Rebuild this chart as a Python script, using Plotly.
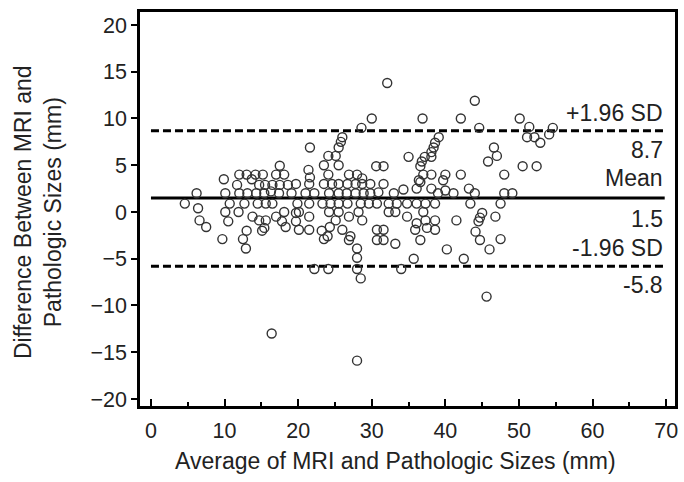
import plotly.graph_objects as go

# Bland-Altman data (average, difference) in mm
x_avg = [4.6, 6.2, 6.4, 6.6, 7.5, 9.7, 9.9, 10.1, 10.7, 10.1, 10.5, 12.0, 13.0, 14.2, 15.2, 17.0, 18.1,
         13.7, 11.7, 14.7, 15.5, 16.5, 17.5, 18.6, 19.7, 12.0, 13.1, 14.3, 15.4, 16.3, 17.4, 19.1, 17.5,
         12.7, 14.5, 15.6, 16.5, 11.9, 13.8, 14.7, 15.6, 15.4, 15.1, 17.0, 18.1, 17.8, 19.7, 19.7, 18.3,
         13.0, 12.5, 12.9, 16.4,
         20.1, 21.5, 20.1, 21.5, 21.6, 21.4, 21.6, 21.5, 19.9, 21.5, 23.3, 24.4, 25.5, 26.7, 28.5, 29.6,
         30.7, 32.3, 33.4, 34.8, 36.1, 37.3, 38.6, 24.2, 25.5, 28.2, 32.3, 33.2, 37.0, 25.1, 26.9, 28.7,
         34.8, 37.3, 38.6, 23.2, 24.3, 23.5, 24.0, 26.0, 27.1, 26.9, 30.7, 31.6, 30.7, 31.6, 33.2, 28.0,
         28.0, 28.0, 28.5, 22.2, 24.1, 34.0, 35.7, 35.9, 36.1, 36.6, 37.5, 38.6, 28.0,
         24.1, 24.1, 25.1, 23.5, 25.5, 26.0, 25.8, 25.5, 28.6, 30.0, 32.1, 30.6, 31.6, 26.9, 28.0, 28.7,
         23.5, 24.6, 25.5, 26.7, 27.8, 28.7, 29.8, 31.6,
         21.0, 22.2, 24.2, 25.5, 26.6, 27.8, 28.9, 29.8, 30.9, 33.0,
         34.3, 36.1, 36.6, 38.1, 39.0, 40.0,
         39.1, 38.6, 38.4, 38.1, 38.1, 37.2, 36.8, 36.6, 37.0, 38.1, 36.4, 35.0, 40.0, 39.7, 36.9,
         42.1, 44.6, 44.0, 50.1, 51.4, 54.6, 51.1, 52.1, 52.9, 54.1, 46.6, 47.0, 45.8, 50.5, 52.4, 48.0,
         42.1, 41.1, 43.2, 44.0, 48.0, 49.1, 43.4, 47.5, 45.0, 44.7, 44.5, 41.5, 46.8, 44.1, 44.7, 47.5,
         40.2, 46.0, 42.5, 45.6]
y_diff = [0.9, 2.0, 0.4, -0.9, -1.6, -2.9, 3.5, 2.0, 0.9, 0.0, -1.0, 4.0, 4.0, 4.0, 4.0, 4.0, 4.0,
          3.5, 2.9, 2.9, 2.9, 2.9, 2.9, 2.9, 3.0, 2.0, 2.0, 2.0, 2.0, 2.2, 2.0, 2.0, 4.95,
          0.9, 0.9, 0.9, 0.9, 0.0, -0.5, -0.9, -0.9, -1.7, -2.0, -0.5, 0.0, -1.0, -0.1, -1.0, -1.6,
          -2.0, -2.9, -3.9, -13.0,
          0.0, -0.5, -1.9, -1.9, 6.9, 4.5, 3.7, 3.0, 0.9, 0.9, 0.9, 0.9, 0.9, 0.9, 0.9, 0.9,
          0.9, 0.9, 0.9, 0.9, 0.9, 0.9, 0.9, 0.0, 0.0, 0.0, 0.0, 0.0, 0.0, -0.9, -0.5, -0.9,
          -0.5, -0.9, -0.9, -2.0, -1.6, -2.9, -2.6, -1.9, -2.6, -3.0, -1.9, -1.9, -3.0, -3.0, -3.4, -3.9,
          -4.9, -6.1, -7.1, -6.1, -6.1, -6.1, -5.0, -1.9, -1.2, -3.0, -1.7, -1.9, -15.9,
          4.0, 6.0, 6.0, 5.0, 5.0, 8.0, 7.5, 6.9, 9.0, 10.0, 13.8, 4.9, 4.9, 4.0, 4.0, 3.6,
          3.0, 3.0, 3.0, 3.0, 3.0, 3.0, 3.0, 3.0,
          2.0, 2.0, 2.0, 2.0, 2.0, 2.0, 2.0, 2.0, 2.1, 2.0,
          2.4, 2.5, 3.2, 2.5, 2.0, 2.3,
          8.0, 7.4, 6.9, 6.4, 5.9, 5.9, 5.4, 4.9, 4.0, 4.0, 3.4, 5.9, 4.0, 3.4, 10.0,
          10.0, 9.0, 11.9, 10.0, 9.1, 9.0, 8.0, 8.0, 7.4, 8.3, 6.9, 6.0, 5.4, 4.9, 4.9, 4.0,
          4.0, 2.0, 2.5, 2.0, 2.0, 2.0, 0.9, 0.9, -0.1, -0.6, -1.0, -0.9, -0.5, -2.1, -3.0, -2.9,
          -4.0, -4.0, -5.0, -9.05]

mean_diff = 1.5
upper_loa = 8.7
lower_loa = -5.8
line_x = [0, 69.8]

x_ticks = [0, 10, 20, 30, 40, 50, 60, 70]
y_ticks = [-20, -15, -10, -5, 0, 5, 10, 15, 20]

FONT = "Arial, Liberation Sans, sans-serif"
TXT = "#222222"

fig = go.Figure()

fig.add_trace(go.Scatter(x=line_x, y=[upper_loa] * 2, mode="lines",
                         line=dict(color="black", width=3, dash="8px,4px"), hoverinfo="skip"))
fig.add_trace(go.Scatter(x=line_x, y=[mean_diff] * 2, mode="lines",
                         line=dict(color="black", width=3), hoverinfo="skip"))
fig.add_trace(go.Scatter(x=line_x, y=[lower_loa] * 2, mode="lines",
                         line=dict(color="black", width=3, dash="8px,4px"), hoverinfo="skip"))

fig.add_trace(go.Scatter(x=x_avg, y=y_diff, mode="markers",
                         marker=dict(symbol="circle-open", size=9, color="#333333",
                                     line=dict(width=1.4, color="#333333"))))

labels = [("+1.96 SD", 10.6), (f"{upper_loa:.1f}", 6.6), ("Mean", 3.6),
          (f"{mean_diff:.1f}", -0.75), ("-1.96 SD", -3.9), (f"{lower_loa:.1f}", -7.8)]
for txt, yy in labels:
    fig.add_annotation(x=line_x[1], y=yy, xref="x", yref="y", text=txt, showarrow=False,
                       xanchor="right", yanchor="middle",
                       font=dict(family=FONT, size=23, color=TXT))

fig.add_annotation(xref="paper", yref="paper", x=0, y=0.5, xshift=-102, yshift=-3,
                   text="Difference Between MRI and<br>Pathologic Sizes (mm)", textangle=-90,
                   showarrow=False, xanchor="center", yanchor="middle",
                   font=dict(family=FONT, size=23, color=TXT))
fig.add_annotation(xref="paper", yref="paper", x=0.478, y=0, yshift=-55,
                   text="Average of MRI and Pathologic Sizes (mm)",
                   showarrow=False, xanchor="center", yanchor="middle",
                   font=dict(family=FONT, size=23, color=TXT))

fig.update_xaxes(range=[-1.49, 71.2], tickvals=x_ticks, ticks="inside", ticklen=7, tickwidth=1.5,
                 tickcolor="black", showline=True, linecolor="black", linewidth=2.5, mirror=True,
                 showgrid=False, zeroline=False, ticklabelstandoff=3,
                 minor=dict(tickvals=[5, 15, 25, 35, 45, 55, 65], ticks="inside", ticklen=4,
                            tickwidth=1.5, tickcolor="black"),
                 tickfont=dict(family=FONT, size=21.5, color=TXT))
fig.update_yaxes(range=[-20.75, 21.39], tickvals=y_ticks, ticks="outside", ticklen=6, tickwidth=1.5,
                 tickcolor="black", showline=True, linecolor="black", linewidth=2.5, mirror=True,
                 showgrid=False, zeroline=False,
                 tickfont=dict(family=FONT, size=21.5, color=TXT))

fig.update_layout(width=684, height=482, margin=dict(l=140, r=6, t=12, b=76),
                  plot_bgcolor="white", paper_bgcolor="white", showlegend=False)

fig.write_html("out.html", config={"displayModeBar": False},
               post_script="document.body.style.margin='0';document.body.style.overflow='hidden';")
